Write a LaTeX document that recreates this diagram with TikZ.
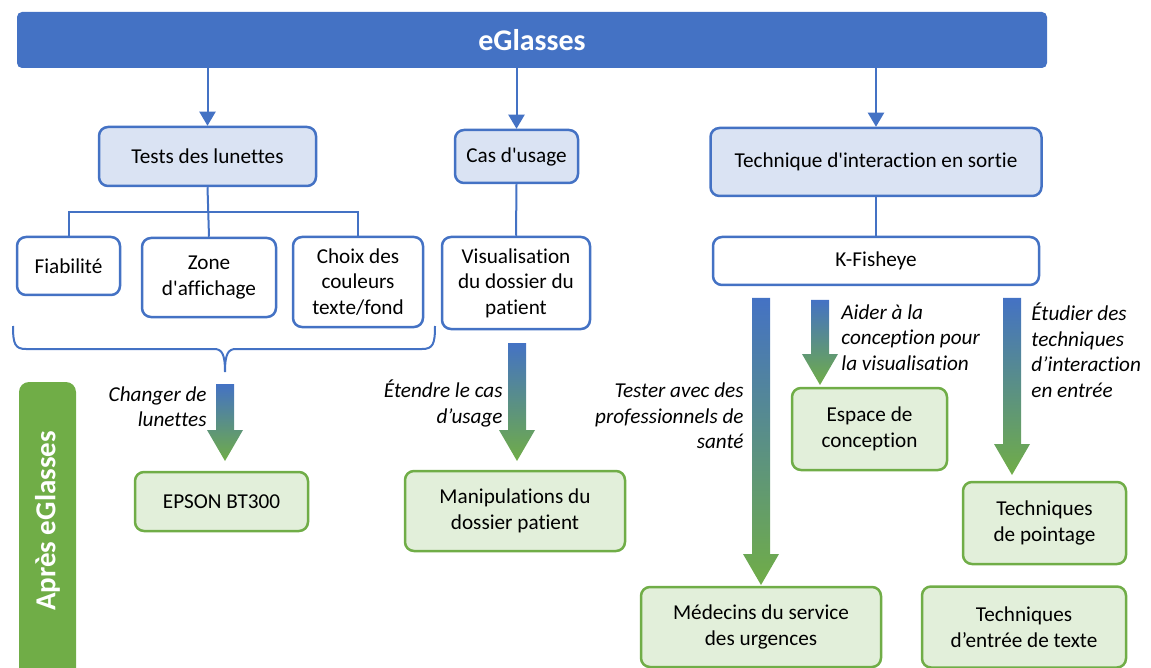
\documentclass[tikz,border=0pt]{standalone}
\usepackage{fontspec}
\setmainfont{Carlito}[Ligatures={TeXOff,NoCommon}]
\usepackage{tikz}
\usetikzlibrary{arrows.meta, positioning}

\definecolor{eblue}{HTML}{4472C4}
\definecolor{egreen}{HTML}{70AD47}
\definecolor{lblue}{HTML}{DAE3F3}
\definecolor{lgreen}{HTML}{E2EFDA}

% shaded arrow: x, top y, tip y
\newcommand{\gradarrow}[3]{%
  \shade[top color=eblue, bottom color=egreen]
    (#1-9,#2) -- (#1+9,#2) -- (#1+9,#3-31) -- (#1+18,#3-31) -- (#1,#3)
    -- (#1-18,#3-31) -- (#1-9,#3-31) -- cycle;}

\begin{document}
\begin{tikzpicture}[x=0.5pt, y=-0.5pt,
    txt/.style={font=\fontsize{10.6}{12.75}\selectfont},
    box/.style={txt, draw=eblue, line width=1.25pt, rounded corners=4.5pt,
      align=center, inner sep=0pt, fill=white},
    bluebox/.style={box, fill=lblue},
    greenbox/.style={box, draw=egreen, fill=lgreen},
    note/.style={txt, font=\fontsize{10.6}{12.75}\selectfont\itshape, inner sep=0pt},
    link/.style={draw=eblue, line width=1pt},
    arr/.style={link, -{Triangle[width=8pt,length=7pt]}}]
  \useasboundingbox (0,0) rectangle (1151,668);
  \clip (0,0) rectangle (1151,668);

  % top bar
  \node[fill=eblue, rounded corners=2.5pt, minimum width=515pt, minimum height=28pt,
    text=white, font=\fontsize{15}{18}\selectfont\bfseries] (top) at (532,40) {eGlasses};

  % side bar
  \fill[egreen, rounded corners=5pt] (19,382) rectangle (76,700);
  \node[rotate=90, text=white, font=\fontsize{14.5}{17}\selectfont\bfseries] (apres) at (47.5,521) {Après eGlasses};

  % first level
  \begin{scope}[every node/.style={bluebox}]
    \node[minimum width=108.5pt, minimum height=29.5pt] (tests) at (207.5,156.5) {Tests des lunettes};
    \node[minimum width=61.5pt, minimum height=26.5pt] (cas) at (516.5,156.5) {Cas d'usage};
    \node[minimum width=165.5pt, minimum height=34pt] (tech) at (876,162) {Technique d'interaction en sortie};
  \end{scope}

  % second level
  \begin{scope}[every node/.style={box}]
    \node[minimum width=51.5pt, minimum height=29pt] (fiab) at (68.5,266) {Fiabilité};
    \node[minimum width=67pt, minimum height=39.5pt] (zone) at (209,277.5) {Zone\\d'affichage};
    \node[minimum width=65pt, minimum height=45pt] (choix) at (358,282) {Choix des\\couleurs\\texte/fond};
    \node[minimum width=74pt, minimum height=46pt] (visu) at (516,283) {Visualisation\\du dossier du\\patient};
    \node[minimum width=163pt, minimum height=24pt] (kfish) at (876,261) {K-Fisheye};
  \end{scope}

  % after eGlasses
  \begin{scope}[every node/.style={greenbox}]
    \node[minimum width=86.5pt, minimum height=29.5pt] (epson) at (221.5,501.5) {EPSON BT300};
    \node[minimum width=110pt, minimum height=40pt] (manip) at (515,511) {Manipulations du\\dossier patient};
    \node[minimum width=77.5pt, minimum height=41pt] (espace) at (869.5,429) {Espace de\\conception};
    \node[minimum width=81.5pt, minimum height=41pt] (point) at (1044.5,523) {Techniques\\de pointage};
    \node[minimum width=120pt, minimum height=40pt] (medec) at (761,627) {Médecins du service\\des urgences};
    \node[minimum width=102pt, minimum height=40.5pt] (entree) at (1024,627) {Techniques\\d’entrée de texte};
  \end{scope}

  % connectors
  \draw[arr] (tests.north |- top.south) -- (tests.north);
  \draw[arr] (cas.north |- top.south) -- (cas.north);
  \draw[arr] (tech.north |- top.south) -- (tech.north);
  \coordinate (bus) at (209,212);
  \draw[link] (fiab.north) |- (bus) -| (choix.north);
  \draw[link] (tests.south) -- (zone.north);
  \draw[link] (cas.south) -- (visu.north);
  \draw[link] (tech.south) -- (kfish.north);

  % brace under the tests
  \draw[link] (13,326) .. controls (13,344) and (15,349) .. (26,349) -- (214,349)
    .. controls (222,349) and (225,354) .. (225,372)
    .. controls (225,354) and (228,349) .. (236,349) -- (422,349)
    .. controls (433,349) and (435,344) .. (435,326);

  % shaded arrows
  \gradarrow{225}{384}{461}
  \gradarrow{517}{343}{461}
  \gradarrow{761}{298}{585}
  \gradarrow{820}{300}{385}
  \gradarrow{1012}{298}{475}

  % arrow labels
  \node[note, align=right, anchor=east] (lchange) at (207,406.5) {Changer de\\lunettes};
  \node[note, align=right, anchor=east] (letend) at (503,403.5) {Étendre le cas\\d’usage};
  \node[note, align=right, anchor=east] (ltest) at (744,416) {Tester avec des\\professionnels de\\santé};
  \node[note, align=left, anchor=west] (laide) at (841,337.5) {Aider à la\\conception pour\\la visualisation};
  \node[note, align=left, anchor=west] (letud) at (1031,350) {Étudier des\\techniques\\d’interaction\\en entrée};
\end{tikzpicture}
\end{document}
